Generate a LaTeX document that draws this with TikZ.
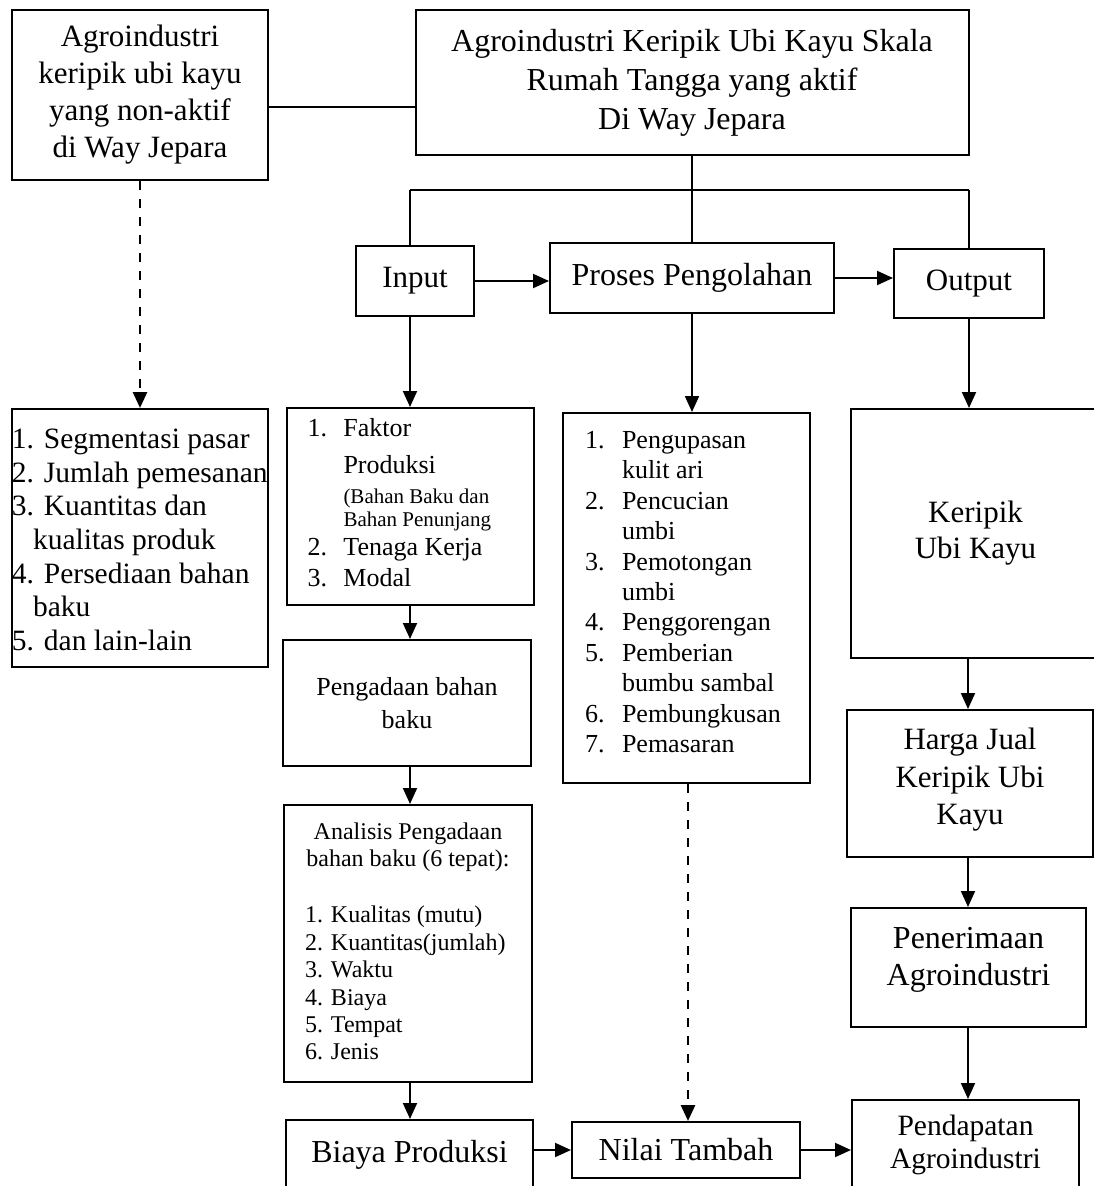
\documentclass[tikz,border=0pt]{standalone}
\usepackage{fontspec}
\setmainfont{Liberation Serif}
\usetikzlibrary{arrows.meta}
\newcommand\fsz[2]{\fontsize{#1pt}{#2pt}\selectfont}
\newcommand\nm[2]{\makebox[#1][l]{#2}}
% lift content by #1 inside a centred node (adds depth below)
\newcommand\lift[2]{\raisebox{0pt}[\height][\dimexpr\depth+#1*2\relax]{#2}}
% drop content by #1 inside a centred node (adds height above)
\newcommand\drop[2]{\raisebox{0pt}[\dimexpr\height+#1*2\relax][\depth]{#2}}
\begin{document}
\begin{tikzpicture}[x=1pt,y=-1pt,
  box/.style={draw, line width=2pt, inner sep=0pt, anchor=center},
  ln/.style={line width=2pt},
  arr/.style={line width=2pt, -{Triangle[length=16pt,width=14pt]}},
  dsh/.style={line width=2.8pt, dash pattern=on 8.5pt off 9.5pt, -{Triangle[length=16pt,width=14pt]}}]
\useasboundingbox (0,0) rectangle (1094,1186);
\clip (0,0) rectangle (1094,1186);

\node[box, minimum width=256pt, minimum height=170pt, align=center, font=\fsz{31}{37}] (A) at (140,95)
  {Agroindustri\\keripik ubi kayu\\yang non-aktif\\di Way Jepara};
\node[box, minimum width=553pt, minimum height=145pt, align=center, font=\fsz{32}{39}] (B) at (692,82.5)
  {Agroindustri Keripik Ubi Kayu Skala\\Rumah Tangga yang aktif\\Di Way Jepara};

\node[box, minimum width=118pt, minimum height=70pt, font=\fsz{31}{37}] (In) at (415,281) {Input};
\node[box, minimum width=284pt, minimum height=70pt, font=\fsz{32}{38}] (Pr) at (692,278) {Proses Pengolahan};
\node[box, minimum width=150pt, minimum height=69pt, font=\fsz{31}{37}] (Out) at (969,283.5) {Output};

\coordinate (busL) at (410,190);
\coordinate (busR) at (969,190);
\coordinate (colb) at (410,0);
\coordinate (colc) at (688,0);
\coordinate (colx) at (968,0);

\node[box, minimum width=256pt, minimum height=258pt, font=\fsz{29.5}{33.7}] (L) at (140,538)
  {\drop{2pt}{\parbox{256pt}{\raggedright 1. Segmentasi pasar\\2. Jumlah pemesanan\\3. Kuantitas dan\\\hspace*{21pt}kualitas produk\\4. Persediaan bahan\\\hspace*{21pt}baku\\5. dan lain-lain}}};

\node[box, minimum width=247pt, minimum height=197pt] (F) at (410,506.5)
  {\lift{4pt}{\parbox{205pt}{\raggedright\fsz{26}{31}\nm{36pt}{1.}Faktor\par
   \fsz{26}{37}\hspace*{36pt}Produksi\par
   {\fsz{21}{30}\hspace*{36pt}(Bahan Baku dan\par}
   {\fsz{21}{23}\hspace*{36pt}Bahan Penunjang\par}
   \fsz{26}{29}\nm{36pt}{2.}Tenaga Kerja\par
   \fsz{26}{31}\nm{36pt}{3.}Modal\par}}};

\node[box, minimum width=248pt, minimum height=126pt, align=center, font=\fsz{26}{33}] (P) at (407,703)
  {Pengadaan bahan\\baku};

\node[box, minimum width=248pt, minimum height=277pt] (An) at (408,943.5)
  {\lift{2pt}{\parbox{220pt}{\fsz{24}{27}\centering Analisis Pengadaan\\bahan baku (6 tepat):\par
   \vspace{29pt}\raggedright\leftskip=7pt\fsz{24}{27.4}
   1. Kualitas (mutu)\\2. Kuantitas(jumlah)\\3. Waktu\\4. Biaya\\5. Tempat\\6. Jenis\par}}};

\node[box, minimum width=247pt, minimum height=80pt, font=\fsz{32}{38}] (Bi) at (409.5,1160)
  {\lift{5pt}{Biaya Produksi}};
\node[box, minimum width=228pt, minimum height=56pt, font=\fsz{32}{38}] (N) at (686,1150) {Nilai Tambah};
\node[box, minimum width=227pt, minimum height=100pt, font=\fsz{29.5}{33}] (Pd) at (965.5,1150)
  {\lift{5pt}{\begin{tabular}{@{}c@{}}Pendapatan\\Agroindustri\end{tabular}}};

\node[box, minimum width=247pt, minimum height=370pt] (PL) at (686.5,598)
  {\lift{6pt}{\parbox{203pt}{\raggedright\fsz{26}{30.4}%
   \nm{37pt}{1.}Pengupasan\\\hspace*{37pt}kulit ari\\
   \nm{37pt}{2.}Pencucian\\\hspace*{37pt}umbi\\
   \nm{37pt}{3.}Pemotongan\\\hspace*{37pt}umbi\\
   \nm{37pt}{4.}Penggorengan\\
   \nm{37pt}{5.}Pemberian\\\hspace*{37pt}bumbu sambal\\
   \nm{37pt}{6.}Pembungkusan\\
   \nm{37pt}{7.}Pemasaran\par}}};

\node[box, minimum width=249pt, minimum height=249pt, align=center, font=\fsz{31}{36}] (K) at (975.5,533.5)
  {Keripik\\Ubi Kayu};
\node[box, minimum width=246pt, minimum height=147pt, font=\fsz{31}{37.5}] (H) at (970,783.5)
  {\lift{4pt}{\begin{tabular}{@{}c@{}}Harga Jual\\Keripik Ubi\\Kayu\end{tabular}}};
\node[box, minimum width=235pt, minimum height=119pt, font=\fsz{32}{37}] (Pn) at (968.5,967.5)
  {\lift{7.5pt}{\begin{tabular}{@{}c@{}}Penerimaan\\Agroindustri\end{tabular}}};

\draw[ln] ([yshift=-12pt]A.east) -- ([yshift=-12pt]A.east -| B.west);
\draw[ln] (B.south) -- (Pr.north);
\draw[ln] (busL) -- (busR);
\draw[ln] (busL) -- (busL |- In.north);
\draw[ln] (busR) -- (Out.north);
\draw[arr] (In.east) -- (In.east -| Pr.west);
\draw[arr] (Pr.east) -- (Pr.east -| Out.west);
\draw[dsh] (A.south) -- (L.north);
\draw[arr] (colb |- In.south) -- (colb |- F.north);
\draw[arr] (Pr.south) -- (Pr.south |- PL.north);
\draw[arr] (Out.south) -- (Out.south |- K.north);
\draw[arr] (colb |- F.south) -- (colb |- P.north);
\draw[arr] (colb |- P.south) -- (colb |- An.north);
\draw[arr] (colb |- An.south) -- (colb |- Bi.north);
\draw[dsh] (colc |- PL.south) -- (colc |- N.north);
\draw[arr] (Bi.east |- N.west) -- (N.west);
\draw[arr] (N.east) -- (N.east -| Pd.west);
\draw[arr] (colx |- K.south) -- (colx |- H.north);
\draw[arr] (colx |- H.south) -- (colx |- Pn.north);
\draw[arr] (colx |- Pn.south) -- (colx |- Pd.north);
\end{tikzpicture}
\end{document}
